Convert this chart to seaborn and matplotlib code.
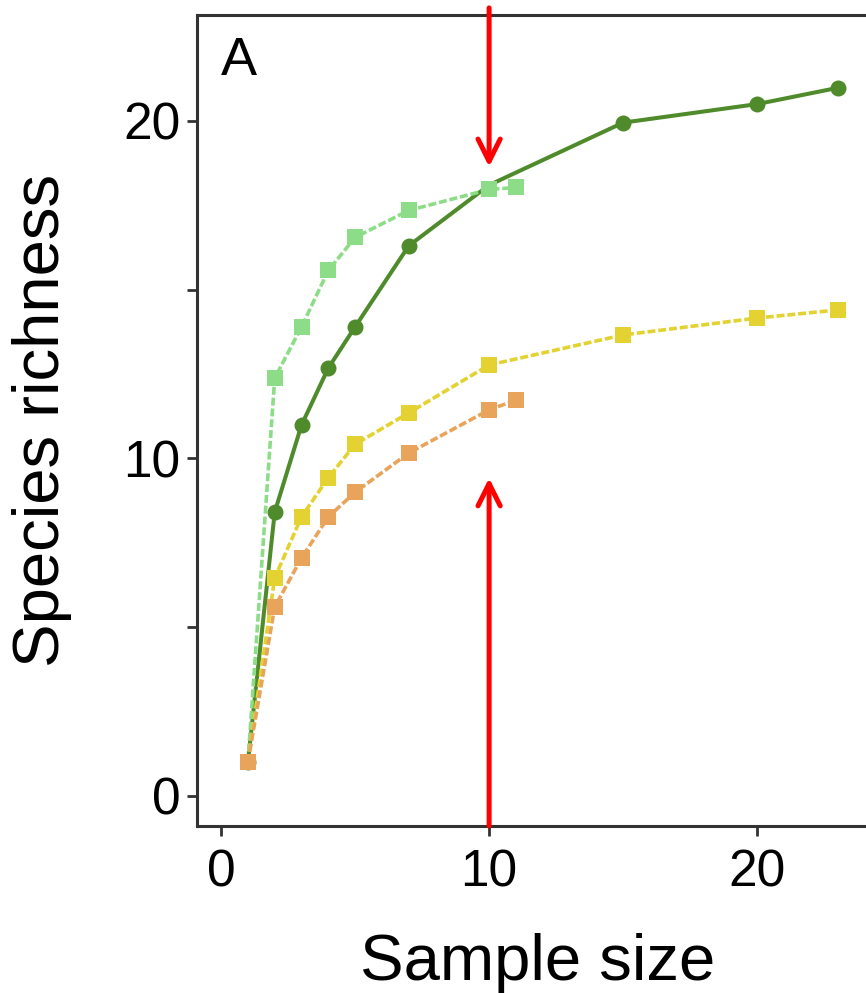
import matplotlib
matplotlib.use("Agg")
import matplotlib.pyplot as plt
import seaborn as sns
import numpy as np

# ---- data ----
# dark green curve (x=10 is a curve point, no marker there)
x_dark = [1, 2, 3, 4, 5, 7, 10, 15, 20, 23]
y_dark = [1, 8.41, 10.99, 12.68, 13.9, 16.3, 18.1, 19.95, 20.5, 20.98]
dark_marker_idx = [0, 1, 2, 3, 4, 5, 7, 8, 9]

x_light = [1, 2, 3, 4, 5, 7, 10, 11]
y_light = [1, 12.38, 13.9, 15.57, 16.55, 17.35, 17.97, 18.03]

x_yellow = [1, 2, 3, 4, 5, 7, 10, 15, 20, 23]
y_yellow = [1, 6.46, 8.27, 9.43, 10.42, 11.35, 12.77, 13.66, 14.16, 14.4]

x_orange = [1, 2, 3, 4, 5, 7, 10, 11]
y_orange = [1, 5.6, 7.05, 8.27, 9.0, 10.16, 11.44, 11.73]

arrow_x = 10
arrow_top = (23.35, 18.64)
arrow_bottom = (-0.89, 9.42)

x_ticks = [0, 10, 20]
y_ticks = [0, 5, 10, 15, 20]
y_ticklabels = ["0", "", "10", "", "20"]

sns.set_style("white")
plt.rcParams["font.family"] = ["Liberation Sans", "DejaVu Sans"]
plt.rcParams["text.color"] = "black"
plt.rcParams["axes.labelcolor"] = "black"

fig = plt.figure(figsize=(8.66, 9.93), dpi=100)
ax = fig.add_axes([197 / 866, 167 / 993, 680.7 / 866, 811 / 993])

series = [
    (x_dark, y_dark, "#4f8a2b", "o", "-", 2.9, 11.5, dark_marker_idx),
    (x_light, y_light, "#8ddd88", "s", "--", 2.6, 12, None),
    (x_yellow, y_yellow, "#e3d232", "s", "--", 2.6, 12, None),
    (x_orange, y_orange, "#e8a45a", "s", "--", 2.6, 12, None),
]
for xs, ys, col, mk, ls, lw, ms, mev in series:
    sns.lineplot(x=xs, y=ys, ax=ax, color=col, marker=mk, markersize=ms,
                 markeredgewidth=0, linewidth=lw, markevery=mev)
    line = ax.lines[-1]
    if ls == "--":
        line.set_dashes((2.2, 0.8))

ax.set_xlim(-0.9, 24.5)
ax.set_ylim(-0.89, 23.14)
ax.set_xticks(x_ticks)
ax.set_xticklabels([str(t) for t in x_ticks])
ax.set_yticks(y_ticks)
ax.set_yticklabels(y_ticklabels)

for side in ["left", "bottom", "top"]:
    ax.spines[side].set_visible(True)
    ax.spines[side].set_color("#333333")
    ax.spines[side].set_linewidth(2.2)
ax.spines["right"].set_visible(False)

ax.tick_params(axis="both", which="major", direction="out", length=7, width=2,
               color="#333333", labelsize=37, labelcolor="black",
               left=True, bottom=True)
ax.tick_params(axis="x", pad=9)
ax.tick_params(axis="y", pad=5)

ax.set_xlabel("Sample size", fontsize=47, color="black")
ax.set_ylabel("Species richness", fontsize=47, color="black")
ax.xaxis.set_label_coords(0.501, -0.132)
ax.yaxis.set_label_coords(-0.1836, 0.5)
ax.xaxis.label.set_va("top")

ax.text(0.035, 0.926, "A", transform=ax.transAxes, fontsize=39,
        ha="left", va="baseline", color="black")

arrowprops = dict(arrowstyle="->", color="red", lw=3.6, mutation_scale=40,
                  shrinkA=0, shrinkB=0)
ax.annotate("", xy=(arrow_x, arrow_top[1]), xytext=(arrow_x, arrow_top[0]),
            arrowprops=arrowprops, annotation_clip=False)
ax.annotate("", xy=(arrow_x, arrow_bottom[1]), xytext=(arrow_x, arrow_bottom[0]),
            arrowprops=arrowprops, annotation_clip=False)

fig.savefig("out.png", dpi=100)
